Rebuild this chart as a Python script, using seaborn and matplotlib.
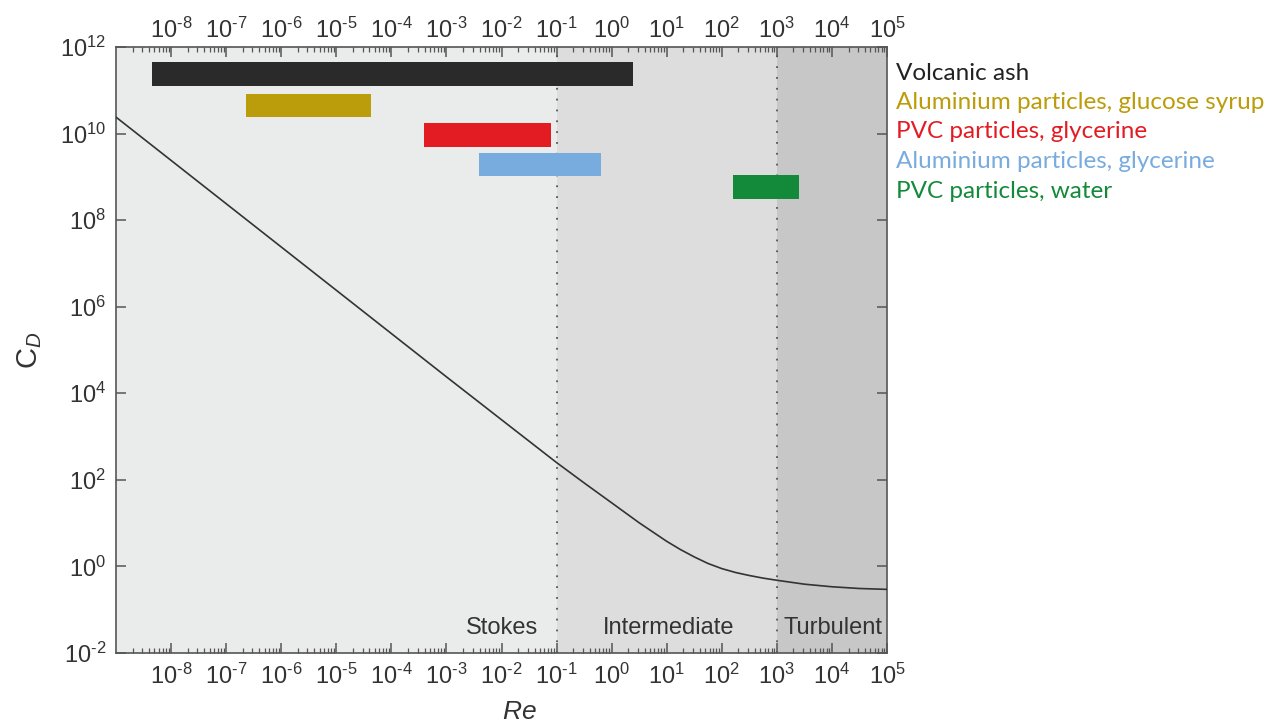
import numpy as np
import matplotlib
matplotlib.use("Agg")
import matplotlib.pyplot as plt
import matplotlib.ticker as mticker
import seaborn as sns

# ---- data ----
re_vals = [1e-9, 1e-6, 1e-3, 1e-2, 1e-1, 0.316, 1.0, 3.16, 10.0, 17.8, 31.6,
           56.2, 100.0, 178.0, 316.0, 562.0, 1e3, 3.16e3, 1e4, 3.16e4, 1e5]
cd_vals = [2.4e10, 2.4e7, 2.4e4, 2.45e3, 251.0, 85.1, 29.5, 10.2, 3.80, 2.45,
           1.66, 1.17, 0.891, 0.724, 0.617, 0.537, 0.479, 0.389, 0.339, 0.309,
           0.295]

bar_labels = ["Volcanic ash", "Aluminium particles, glucose syrup",
              "PVC particles, glycerine", "Aluminium particles, glycerine",
              "PVC particles, water"]
bar_re_min = [4.5e-9, 2.3e-7, 3.9e-4, 3.9e-3, 162.0]
bar_re_max = [2.45, 4.3e-5, 7.8e-2, 0.65, 2500.0]
bar_cd_min = [1.26e11, 2.4e10, 5.0e9, 1.05e9, 3.0e8]
bar_cd_max = [4.5e11, 8.2e10, 1.78e10, 3.6e9, 1.1e9]
bar_colors = ["#2a2a2a", "#bb9c0a", "#e31c23", "#78acdf", "#138a3a"]
label_colors = ["#222222", "#bb9c0a", "#e31c23", "#78acdf", "#138a3a"]

regime_names = ["Stokes", "Intermediate", "Turbulent"]
regime_bounds = [1e-9, 1e-1, 1e3, 1e5]
regime_colors = ["#eaebeb", "#dddddd", "#c7c7c7"]

x_ticks = [10.0 ** k for k in range(-8, 6)]
y_ticks = [10.0 ** k for k in range(-2, 13, 2)]

# ---- styling ----
sns.set_theme(style="white")
plt.rcParams["font.family"] = ["Liberation Sans", "DejaVu Sans"]
plt.rcParams["mathtext.fontset"] = "custom"
plt.rcParams["mathtext.rm"] = "Liberation Sans"
plt.rcParams["mathtext.it"] = "Liberation Sans:italic"
plt.rcParams["mathtext.bf"] = "Liberation Sans:bold"

fig = plt.figure(figsize=(12.66, 7.22), dpi=100)
ax = fig.add_axes([116 / 1266, 1 - 653 / 722, 771 / 1266, 606 / 722])
ax.set_xscale("log")
ax.set_yscale("log")
ax.set_xlim(regime_bounds[0], regime_bounds[-1])
ax.set_ylim(1e-2, 1e12)

for i in range(3):
    ax.axvspan(regime_bounds[i], regime_bounds[i + 1], color=regime_colors[i],
               lw=0, zorder=0)
for b in regime_bounds[1:3]:
    ax.axvline(b, color="#555555", lw=1.3, ls=(0, (1, 5)), zorder=1)

sns.lineplot(x=re_vals, y=cd_vals, ax=ax, color="#333333", lw=1.2,
             estimator=None, sort=False, zorder=3)

for i in range(len(bar_labels)):
    ax.broken_barh([(bar_re_min[i], bar_re_max[i] - bar_re_min[i])],
                   (bar_cd_min[i], bar_cd_max[i] - bar_cd_min[i]),
                   facecolors=bar_colors[i], edgecolor="none", zorder=4)
    fig.text(896 / 1266, 1 - (73 + 29.5 * i) / 722, bar_labels[i],
             color=label_colors[i], fontsize=17.5,
             family=["Lato", "DejaVu Sans"], ha="left", va="center")

# regime labels
trans = ax.get_xaxis_transform()
ax.text(0.046, 0.041, regime_names[0], transform=trans, ha="right",
        va="center", fontsize=17, color="#333333", zorder=5)
ax.text(10.7, 0.041, regime_names[1], transform=trans, ha="center",
        va="center", fontsize=17, color="#333333", zorder=5)
ax.text(1.05e4, 0.041, regime_names[2], transform=trans, ha="center",
        va="center", fontsize=17, color="#333333", zorder=5)


# ticks
def _lbl(v, p):
    k = int(round(np.log10(v)))
    s = (r"\text{-}%d" % -k) if k < 0 else "%d" % k
    return r"$\mathregular{10^{%s}}$" % s


fmt = mticker.FuncFormatter(_lbl)
minor_loc = mticker.LogLocator(base=10, subs=np.arange(2, 10), numticks=100)
ax.xaxis.set_major_locator(mticker.FixedLocator(x_ticks))
ax.xaxis.set_minor_locator(minor_loc)
ax.xaxis.set_minor_formatter(mticker.NullFormatter())
ax.xaxis.set_major_formatter(fmt)
ax.yaxis.set_major_locator(mticker.FixedLocator(y_ticks))
ax.yaxis.set_minor_locator(mticker.NullLocator())
ax.yaxis.set_major_formatter(fmt)

ax.tick_params(axis="both", which="major", direction="in", length=7, width=1.1,
               color="#555555", labelsize=17, labelcolor="#333333",
               top=True, right=True, labeltop=False, bottom=True, left=True)
ax.tick_params(axis="x", which="minor", direction="in", length=3.5, width=0.9,
               color="#555555", top=True, bottom=True)
ax.tick_params(axis="x", which="major", pad=8)
ax.tick_params(axis="y", which="major", pad=7)

# top labels via secondary axis (labels only)
sec = ax.secondary_xaxis("top")
sec.xaxis.set_major_locator(mticker.FixedLocator(x_ticks))
sec.xaxis.set_minor_locator(mticker.NullLocator())
sec.xaxis.set_major_formatter(fmt)
sec.tick_params(axis="x", which="major", length=0, pad=3, labelsize=17,
                labelcolor="#333333")
sec.spines["top"].set_visible(False)

for s in ax.spines.values():
    s.set_color("#555555")
    s.set_linewidth(1.2)
    s.set_visible(True)

ax.set_xlabel(r"$Re$", fontsize=19, color="#333333")
ax.set_ylabel(r"$\mathregular{C}_{D}$", fontsize=21, color="#333333")
ax.xaxis.set_label_coords(0.523, -0.077)
ax.yaxis.set_label_coords(-0.093, 0.5)

fig.savefig("out.png", dpi=100)
